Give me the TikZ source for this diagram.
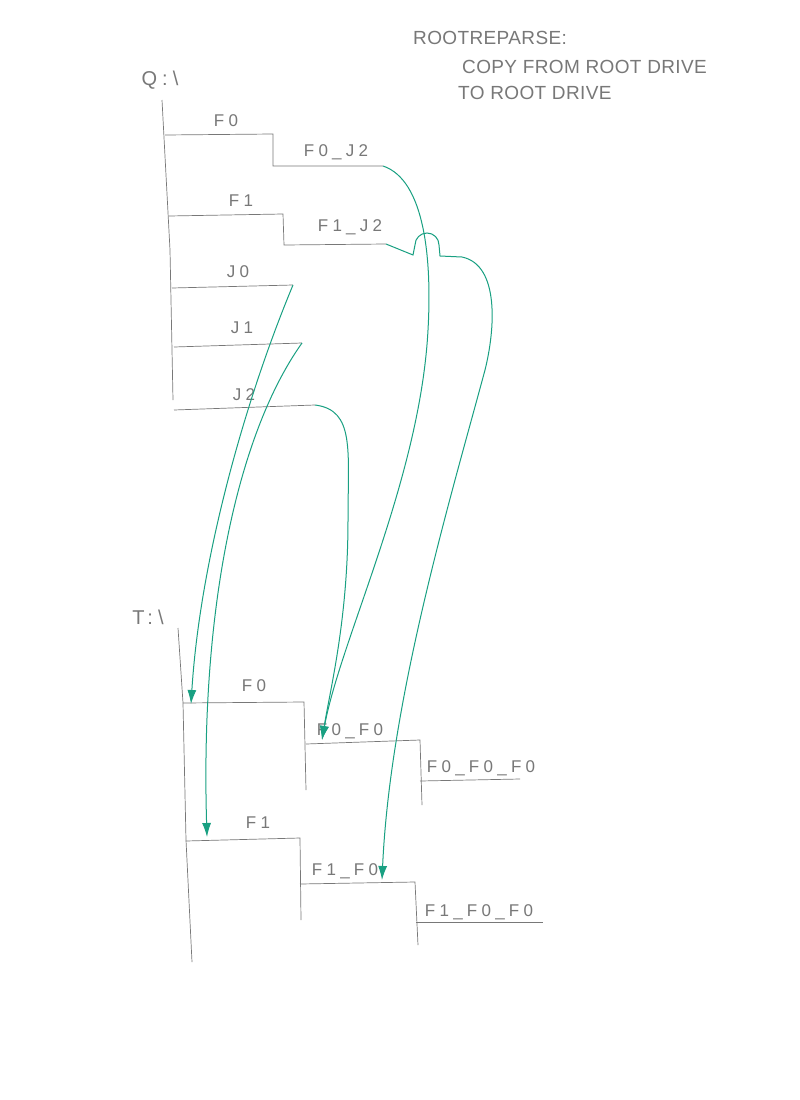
\documentclass[tikz,border=0pt]{standalone}
\usepackage{fontspec}
\usepackage{xcolor}
\usetikzlibrary{arrows.meta}
\newfontfamily\hand[LetterSpace=25]{Liberation Sans}
\newfontfamily\handtitle[LetterSpace=2]{Liberation Sans}
\definecolor{pencil}{RGB}{120,120,120}
\definecolor{pen}{RGB}{25,160,130}

\begin{document}
\begin{tikzpicture}[x=1pt, y=-1pt, >={Latex[length=14pt,width=9pt]},
  lbl/.style={text=pencil, font=\hand\fontsize{17}{20}\selectfont, inner sep=0pt},
  drive/.style={text=pencil, font=\hand\fontsize{20}{24}\selectfont, inner sep=0pt},
  title/.style={text=pencil, font=\handtitle\fontsize{19}{22}\selectfont, inner sep=0pt, anchor=west},
  dir/.style={draw=pencil, line width=0.7pt},
  link/.style={draw=pen, line width=1pt, ->}]
  \useasboundingbox (0,0) rectangle (800,1100);
  \fill[white] (0,0) rectangle (800,1100);

  % heading
  \node[title] (head) at (413,38) {ROOTREPARSE:};
  \node[title] (copy) at (462,67) {COPY FROM ROOT DRIVE};
  \node[title] (dest) at (458,93) {TO ROOT DRIVE};

  % source drive
  \node[drive] (qroot) at (160,80) {Q:\textbackslash};
  \draw[dir] (162,100) -- (170,250) -- (173,400);
  \draw[dir] (165,135) -- (273,134) -- (273,166) -- (383,166) coordinate (qf0j2);
  \draw[dir] (169,216) -- (283,214) -- (284,245) -- (386,244) coordinate (qf1j2);
  \draw[dir] (172,288) -- (293,285) coordinate (qj0);
  \draw[dir] (174,347) -- (302,343) coordinate (qj1);
  \draw[dir] (174,410) -- (315,405) coordinate (qj2);
  \node[lbl] (qf0) at (226,121) {F0};
  \node[lbl] (qf0j2l) at (336,152) {F0\_J2};
  \node[lbl] (qf1) at (241,201) {F1};
  \node[lbl] (qf1j2l) at (350,227) {F1\_J2};
  \node[lbl] (qj0l) at (238,272) {J0};
  \node[lbl] (qj1l) at (242,328) {J1};
  \node[lbl] (qj2l) at (244,395) {J2};

  % target drive
  \node[drive] (troot) at (148,617) {T:\textbackslash};
  \draw[dir] (178,628) -- (183,703) -- (186,840) -- (192,962);
  \draw[dir] (183,703) -- (304,702) -- (306,790);
  \draw[dir] (306,744) -- (420,740) -- (422,805);
  \draw[dir] (420,781) -- (520,779);
  \draw[dir] (186,841) -- (300,838) -- (301,920);
  \draw[dir] (300,884) -- (415,882) -- (418,945);
  \draw[dir] (416,922) -- (543,922);
  \coordinate (tf0) at (191,704);
  \coordinate (tf1) at (207,837);
  \coordinate (tf0f0) at (322,740);
  \coordinate (tf1f0) at (382,880);
  \node[lbl] (tf0l) at (254,686) {F0};
  \node[lbl] (tf0f0l) at (350,731) {F0\_F0};
  \node[lbl] (tf0f0f0l) at (481,768) {F0\_F0\_F0};
  \node[lbl] (tf1l) at (258,823) {F1};
  \node[lbl] (tf1f0l) at (345,871) {F1\_F0};
  \node[lbl] (tf1f0f0l) at (479,912) {F1\_F0\_F0};

  % copies
  \draw[link] (qj0) .. controls (245,400) and (200,560) .. (tf0);
  \draw[link] (qj1) .. controls (240,430) and (200,600) .. (tf1);
  \draw[link] (qj2) .. controls (355,410) and (348,450) .. (348,520)
    .. controls (348,620) and (330,690) .. (tf0f0);
  \draw[link] (qf0j2) .. controls (425,180) and (432,260) .. (428,330)
    .. controls (420,480) and (340,640) .. (tf0f0);
  \draw[link] (qf1j2) -- (413,255) -- (415,245) arc[start angle=180, end angle=0, radius=12pt]
    -- (440,256) -- (462,257) .. controls (500,265) and (495,330) .. (485,370)
    .. controls (450,500) and (390,700) .. (tf1f0);
\end{tikzpicture}
\end{document}
